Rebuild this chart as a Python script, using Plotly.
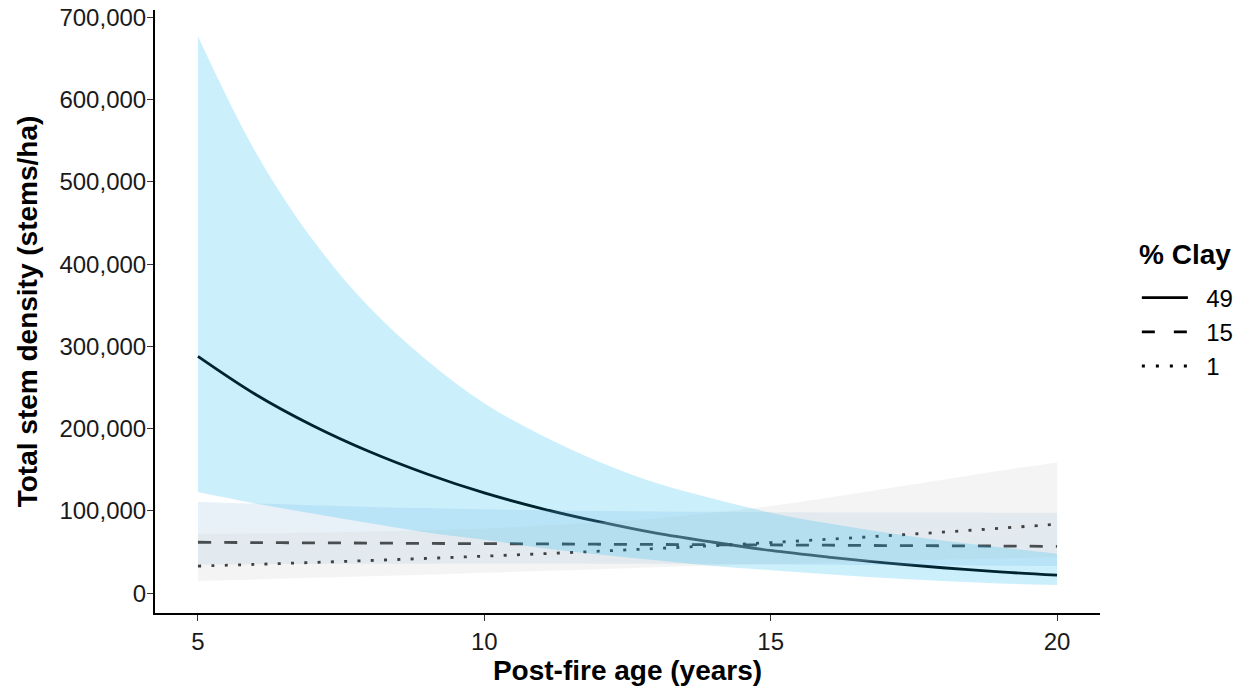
import plotly.graph_objects as go

# ---- data ----
age = [5, 6, 7, 8, 9, 10, 11, 12, 13, 14, 15, 16, 17, 18, 19, 20]

clay49_fit = [288000, 242000, 204000, 172000, 145000, 122000, 103000, 87000,
              73000, 62000, 52000, 44000, 37000, 31000, 26000, 22000]
clay49_upper = [677000, 537000, 430000, 347000, 283000, 231000, 192000, 160000,
                134000, 115000, 98000, 85000, 74000, 64000, 56000, 48000]
clay49_lower = [123000, 109000, 97000, 85000, 74000, 65000, 55000, 47000,
                40000, 33000, 28000, 23000, 18500, 15000, 12000, 10000]

clay15_fit = [62000, 61600, 61300, 61000, 60600, 60300, 60000, 59600,
              59300, 59000, 58700, 58400, 58000, 57700, 57400, 57000]
clay15_upper = [111000, 109000, 107000, 105000, 103500, 102000, 101000, 100000,
                99500, 99000, 98500, 98300, 98200, 98100, 98000, 98000]
clay15_lower = [35000, 35300, 35600, 35800, 36000, 36100, 36100, 36000,
                35800, 35500, 35200, 34800, 34400, 34000, 33500, 33000]

clay1_fit = [33000, 35100, 37400, 39800, 42400, 45100, 48000, 51100,
             54400, 57900, 61600, 65600, 69800, 74300, 79000, 84000]
clay1_upper = [72000, 72500, 73500, 75000, 76500, 78500, 82000, 86000,
               91000, 98000, 106000, 116000, 127000, 138000, 149000, 159000]
clay1_lower = [15000, 16800, 18700, 20600, 22600, 24800, 27000, 29300,
               31500, 33600, 35600, 37500, 39300, 41000, 42600, 44000]

legend_title = "% Clay"
legend_labels = ["49", "15", "1"]
y_ticks = [0, 100000, 200000, 300000, 400000, 500000, 600000, 700000]
x_ticks = [5, 10, 15, 20]

# ---- styles ----
BLUE_FILL = "rgba(0,176,240,0.2)"
FILL15 = "rgba(140,185,220,0.2)"
FILL1 = "rgba(214,214,214,0.27)"
FONT = "Liberation Sans, Arial, sans-serif"


def ribbon(lower, upper, color):
    return [
        go.Scatter(x=age, y=lower, mode="lines", line=dict(width=0, shape="spline"),
                   showlegend=False, hoverinfo="skip"),
        go.Scatter(x=age, y=upper, mode="lines", line=dict(width=0, shape="spline"),
                   fill="tonexty", fillcolor=color, showlegend=False, hoverinfo="skip"),
    ]


fig = go.Figure()

# solid line (49) drawn under the ribbons
fig.add_trace(go.Scatter(x=age, y=clay49_fit, mode="lines",
                         line=dict(color="#000000", width=2.8, shape="spline"),
                         showlegend=False, hoverinfo="skip"))
for t in ribbon(clay15_lower, clay15_upper, FILL15):
    fig.add_trace(t)
for t in ribbon(clay1_lower, clay1_upper, FILL1):
    fig.add_trace(t)
fig.add_trace(go.Scatter(x=age, y=clay15_fit, mode="lines",
                         line=dict(color="#484d50", width=2.8, dash="13px,13px", shape="spline"),
                         showlegend=False, hoverinfo="skip"))
fig.add_trace(go.Scatter(x=age, y=clay1_fit, mode="lines",
                         line=dict(color="#404040", width=2.8, dash="3px,10.3px", shape="spline"),
                         showlegend=False, hoverinfo="skip"))
for t in ribbon(clay49_lower, clay49_upper, BLUE_FILL):
    fig.add_trace(t)

# legend entries
dashes = ["solid", "13px,19px", "3px,11px"]
for lab, d in zip(legend_labels, dashes):
    fig.add_trace(go.Scatter(x=[None], y=[None], mode="lines", name="\u00a0\u00a0" + lab,
                             line=dict(color="#000000", width=2.8, dash=d)))

fig.add_annotation(
    text="<b>" + legend_title + "</b>", xref="paper", yref="paper",
    x=1.039, y=0.594, xanchor="left", yanchor="middle", showarrow=False,
    font=dict(size=28, family=FONT, color="#000000"),
)

fig.update_layout(
    width=1249, height=687,
    margin=dict(l=155, r=147, t=10, b=74),
    paper_bgcolor="white", plot_bgcolor="white",
    font=dict(family=FONT, size=24, color="#000000"),
    showlegend=True,
    legend=dict(
        x=1.039, xanchor="left", y=0.466, yanchor="middle",
        traceorder="normal",
        font=dict(size=24, family=FONT), bgcolor="rgba(0,0,0,0)",
        itemwidth=46, tracegroupgap=0,
    ),
    xaxis=dict(
        range=[4.25, 20.75], tickvals=x_ticks, ticks="outside", ticklen=6,
        tickwidth=1.3, tickcolor="#333333", showline=True, linecolor="#000000",
        linewidth=2, showgrid=False, zeroline=False, automargin=False,
        tickfont=dict(size=24, family=FONT, color="#1a1a1a"),
        title=dict(text="<b>Post-fire age (years)</b>", font=dict(size=28, family=FONT),
                   standoff=4),
    ),
    yaxis=dict(
        range=[-24000, 709000], tickvals=y_ticks, tickformat=",d", ticks="outside",
        ticklen=6, tickwidth=1.3, tickcolor="#333333", showline=True,
        linecolor="#000000", linewidth=2, showgrid=False, zeroline=False,
        automargin=False, ticklabelstandoff=-4,
        tickfont=dict(size=24, family=FONT, color="#1a1a1a"),
        title=dict(text="<b>Total stem density (stems/ha)</b>",
                   font=dict(size=28, family=FONT), standoff=14),
    ),
)

fig.write_html("out.html")
